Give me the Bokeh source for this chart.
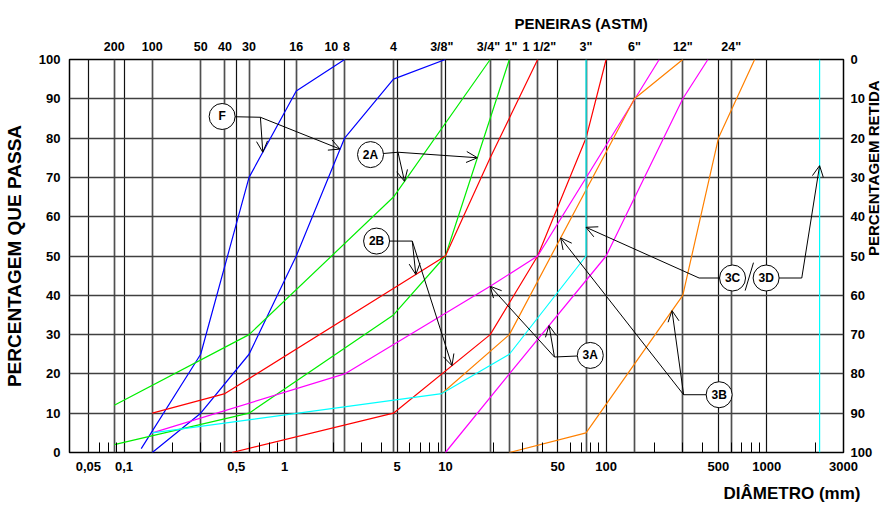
import numpy as np
from bokeh.plotting import figure
from bokeh.models import (LogAxis, LinearAxis, Range1d, FixedTicker, Grid, Axis,
                          Title, Arrow, OpenHead, ColumnDataSource, LogScale)
from bokeh.embed import file_html
from bokeh.resources import INLINE
from bokeh.core.properties import value

NBSP = "\u00a0"

# ASTM sieve openings (mm) and names (top axis)
sieve_mm = [0.087, 0.15, 0.3, 0.425, 0.6, 1.18, 2.0, 2.36, 4.75, 9.5,
            19, 25, 37.5, 75, 150, 300, 600]
sieve_names = ["200", "100", "50", "40", "30", "16", "10" + NBSP, NBSP + "8", "4", '3/8"',
               '3/4"' + NBSP, NBSP + '1"', NBSP + '1 1/2"', '3"', '6"', '12"', '24"']

# diameter scale (bottom axis)
diam_ticks = [0.06, 0.1, 0.5, 1, 5, 10, 50, 100, 500, 1000, 3000]
diam_labels = ["0,05", "0,1", "0,5", "1", "5", "10", "50", "100", "500", "1000", "3000"]
diam_minor = [0.07, 0.08, 0.09, 0.2, 0.3, 0.4, 0.6, 0.7, 0.8, 0.9,
              2, 3, 4, 6, 7, 8, 9, 20, 30, 40, 60, 70, 80, 90,
              200, 300, 400, 600, 700, 800, 900, 2000]

pct_ticks = [0, 10, 20, 30, 40, 50, 60, 70, 80, 90, 100]

# grading envelopes: diameter (mm) and percentage passing
f1_d = [0.128, 0.3, 0.6, 1.18, 2.36]
f1_p = [1, 25, 70, 92, 100]
f2_d = [0.15, 0.3, 0.6, 1.18, 2.36, 4.75, 10]
f2_p = [0, 10, 25, 50, 80, 95, 100]

a1_d = [0.087, 0.6, 4.75, 19]
a1_p = [12, 30, 65, 100]
a2_d = [0.087, 0.6, 4.75, 10, 25]
a2_p = [2, 10, 35, 50, 100]

b1_d = [0.15, 0.425, 10, 19, 37.5]
b1_p = [10, 15, 50, 75, 100]
b2_d = [0.47, 4.75, 19, 37.5, 75, 100]
b2_p = [0, 10, 30, 50, 80, 100]

m1_d = [0.15, 2.36, 19, 37.5, 214]
m1_p = [5, 20, 42.3, 50, 100]
m2_d = [10, 25, 100, 300, 430]
m2_p = [0, 20, 50, 90, 100]

o1_d = [9.5, 25, 150, 300]
o1_p = [15, 30, 90, 100]
o2_d = [25, 75, 300, 500, 840]
o2_p = [0, 5, 40, 80, 100]

c_d = [0.15, 9.5, 25, 75, 75]
c_p = [5, 15, 25, 50, 100]
d_d = [2130, 2130]
d_p = [0, 100]

FONT = "Liberation Sans"

p = figure(width=893, height=514, x_axis_type=None, y_axis_location=None,
           x_range=Range1d(0.0458, 3000), y_range=Range1d(0, 100),
           output_backend="svg", toolbar_location=None,
           min_border_left=67, min_border_right=50,
           min_border_top=59, min_border_bottom=62)
p.x_scale = LogScale()
p.outline_line_color = "black"
p.outline_line_width = 1.5
p.background_fill_color = "white"
p.border_fill_color = "white"
p.xgrid.visible = False
p.ygrid.visible = False
p.title.visible = False


def style_axis(ax, size="13px"):
    ax.axis_line_color = None
    ax.major_tick_line_color = None
    ax.minor_tick_line_color = None
    ax.major_tick_out = 0
    ax.major_tick_in = 0
    ax.minor_tick_out = 0
    ax.major_label_text_font = FONT
    ax.major_label_text_font_style = "bold"
    ax.major_label_text_font_size = size
    ax.major_label_text_color = "black"
    ax.axis_label_text_font = FONT
    ax.axis_label_text_font_style = "bold"
    ax.axis_label_text_color = "black"


# bottom: diameter in mm
bottom = LogAxis(ticker=FixedTicker(ticks=diam_ticks, minor_ticks=diam_minor))
bottom.major_label_overrides = {t: l for t, l in zip(diam_ticks, diam_labels)}
style_axis(bottom)
bottom.minor_tick_line_color = "black"
bottom.minor_tick_line_width = 1
bottom.minor_tick_in = 10
bottom.major_label_standoff = 9
p.add_layout(bottom, "below")

# top: ASTM sieves
top = LogAxis(ticker=FixedTicker(ticks=sieve_mm, minor_ticks=[]))
top.major_label_overrides = {t: l for t, l in zip(sieve_mm, sieve_names)}
style_axis(top, "12.5px")
top.major_label_standoff = 6
p.add_layout(top, "above")

# left: percent passing
left = LinearAxis(ticker=FixedTicker(ticks=pct_ticks, minor_ticks=[]))
style_axis(left)
left.major_label_standoff = 9
left.axis_label = "PERCENTAGEM QUE PASSA"
left.axis_label_text_font_size = "19px"
left.axis_label_standoff = 11
p.add_layout(left, "left")

# right: percent retained
p.extra_y_ranges = {"ret": Range1d(100, 0)}
right = LinearAxis(y_range_name="ret", ticker=FixedTicker(ticks=pct_ticks, minor_ticks=[]))
style_axis(right)
right.major_label_standoff = 7
right.axis_label = "PERCENTAGEM RETIDA"
right.axis_label_text_font_size = "15px"
right.axis_label_standoff = -2
if "axis_label_orientation" in Axis.properties():
    right.axis_label_orientation = np.pi / 2
p.add_layout(right, "right")

# titles outside the frame
t_top = Title(text="PENEIRAS (ASTM)", align="left", offset=445,
              text_font=FONT, text_font_style="bold", text_font_size="15px",
              text_color="black", standoff=10)
p.add_layout(t_top, "above")
# blank spacer line between the diameter ticks and the axis title
p.add_layout(Title(text=" ", text_font=FONT, text_font_size="6px", standoff=0), "below")
t_bottom = Title(text="DIÂMETRO (mm)", align="left", offset=654,
                 text_font=FONT, text_font_style="bold", text_font_size="17px",
                 text_color="black", standoff=0)
p.add_layout(t_bottom, "below")

# grid: sieve lines, diameter lines, horizontal percent lines
g_sieve = Grid(dimension=0, ticker=FixedTicker(ticks=sieve_mm))
g_sieve.grid_line_color = "#505050"
g_sieve.grid_line_width = 1.7
p.add_layout(g_sieve)
g_diam = Grid(dimension=0, ticker=FixedTicker(ticks=diam_ticks[:-1]))
g_diam.grid_line_color = "#111111"
g_diam.grid_line_width = 1.2
p.add_layout(g_diam)
g_pct = Grid(dimension=1, ticker=FixedTicker(ticks=pct_ticks[1:-1]))
g_pct.grid_line_color = "#404040"
g_pct.grid_line_width = 1.7
p.add_layout(g_pct)

curves = [
    (f1_d, f1_p, "#0000ff"), (f2_d, f2_p, "#0000ff"),
    (a1_d, a1_p, "#00ee00"), (a2_d, a2_p, "#00ee00"),
    (b1_d, b1_p, "#ff0000"), (b2_d, b2_p, "#ff0000"),
    (m1_d, m1_p, "#ff00ff"), (m2_d, m2_p, "#ff00ff"),
    (o1_d, o1_p, "#ff8000"), (o2_d, o2_p, "#ff8000"),
    (c_d, c_p, "#00ffff"), (d_d, d_p, "#00ffff"),
]
for d, pc, col in curves:
    p.line(d, pc, line_color=col, line_width=1.2)


def on_curve(d, pc, pct):
    """Diameter where a grading curve reaches a given percentage."""
    return float(10 ** np.interp(pct, pc, np.log10(d)))


# callout tags: (text, tag position, elbow, arrow targets)
tags = [
    ("F", (0.408, 85.5), (0.706, 85.3),
     [(on_curve(f1_d, f1_p, 76.4), 76.4), (on_curve(f2_d, f2_p, 77.2), 77.2)]),
    ("2A", (3.42, 75.8), (5.07, 76.4),
     [(on_curve(a1_d, a1_p, 69), 69), (on_curve(a2_d, a2_p, 75), 75)]),
    ("2B", (3.73, 53.8), (6.22, 53.8),
     [(on_curve(b1_d, b1_p, 45.3), 45.3), (on_curve(b2_d, b2_p, 22.1), 22.1)]),
    ("3A", (79.7, 24.7), (47.7, 24.3),
     [(on_curve(m1_d, m1_p, 42.3), 42.3), (on_curve(m2_d, m2_p, 32.3), 32.3)]),
    ("3B", (505, 14.7), (303.6, 14.7),
     [(on_curve(o2_d, o2_p, 36.1), 36.1), (on_curve(o1_d, o1_p, 54.6), 54.6)]),
    ("3C", (612, 44.4), (379, 44.4), [(75, 57.3)]),
    ("3D", (990, 44.4), (1650, 44.4), [(2130, 73)]),
]

for txt, (tx, ty), (ex, ey), targets in tags:
    p.segment(x0=[tx], y0=[ty], x1=[ex], y1=[ey], line_color="black", line_width=1)
    for (ax_, ay_) in targets:
        p.add_layout(Arrow(x_start=ex, y_start=ey, x_end=ax_, y_end=ay_,
                           line_color="black", line_width=1,
                           end=OpenHead(size=11, line_color="black", line_width=1)))

# slash between 3C and 3D
p.segment(x0=[733], y0=[41.2], x1=[826], y1=[48.3], line_color="black", line_width=1)

tag_src = ColumnDataSource(dict(x=[t[1][0] for t in tags], y=[t[1][1] for t in tags],
                                text=[t[0] for t in tags]))
p.scatter("x", "y", source=tag_src, marker="circle", size=26,
          fill_color="white", line_color="black", line_width=1)
p.text("x", "y", text="text", source=tag_src, text_align="center",
       text_baseline="middle", text_font=value(FONT), text_font_style="bold",
       text_font_size="12px", text_color="black")

open("out.html", "w").write(file_html(p, INLINE))
